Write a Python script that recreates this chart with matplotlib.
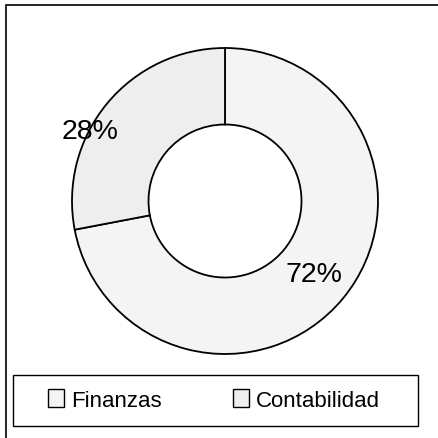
import matplotlib
matplotlib.use("Agg")
import matplotlib.pyplot as plt
from matplotlib.patches import Rectangle, Patch
import numpy as np

categories = ["Finanzas", "Contabilidad"]
values = [72, 28]
colors = ["#f4f4f4", "#eeeeee"]

W = H = 439
fig = plt.figure(figsize=(4.39, 4.39), dpi=100)
plt.rcParams['font.family'] = ['Liberation Sans', 'DejaVu Sans']

ax = fig.add_axes([0, 0, 1, 1])
cx, cy, R = 225, H - 202, 153
wedges, _ = ax.pie(values, colors=colors, startangle=90, counterclock=False,
                   center=(cx, cy), radius=R,
                   wedgeprops=dict(width=R * 0.5, edgecolor="black", linewidth=1.3))
ax.set_xlim(0, W)
ax.set_ylim(0, H)
ax.set_aspect('equal')
ax.axis('off')

# percentage labels
total = sum(values)
label_pos = [(314, H - 275), (90, H - 132)]
for v, (x, y) in zip(values, label_pos):
    ax.text(x, y, f"{round(100 * v / total)}%", fontsize=20.5, ha='center', va='center')

# outer frame
fig.patches.append(Rectangle((6 / W, -0.1), 1.2, (H - 6) / H + 0.1, transform=fig.transFigure,
                             fill=False, edgecolor='black', linewidth=1.2))
# legend box
fig.patches.append(Rectangle((13 / W, (H - 427) / H), 405 / W, 51 / H, transform=fig.transFigure,
                             fill=False, edgecolor='black', linewidth=1.0))

handles = [Patch(facecolor=c, edgecolor='black', linewidth=1.0) for c in colors]
leg = fig.legend(handles, categories, loc='center', bbox_to_anchor=(214 / W, 1 - 401 / H),
                 ncol=2, frameon=False, fontsize=16, handlelength=0.72,
                 handleheight=0.85, handletextpad=0.32, columnspacing=3.2,
                 borderpad=0.0)

fig.savefig("out.png", dpi=100, facecolor='white')
